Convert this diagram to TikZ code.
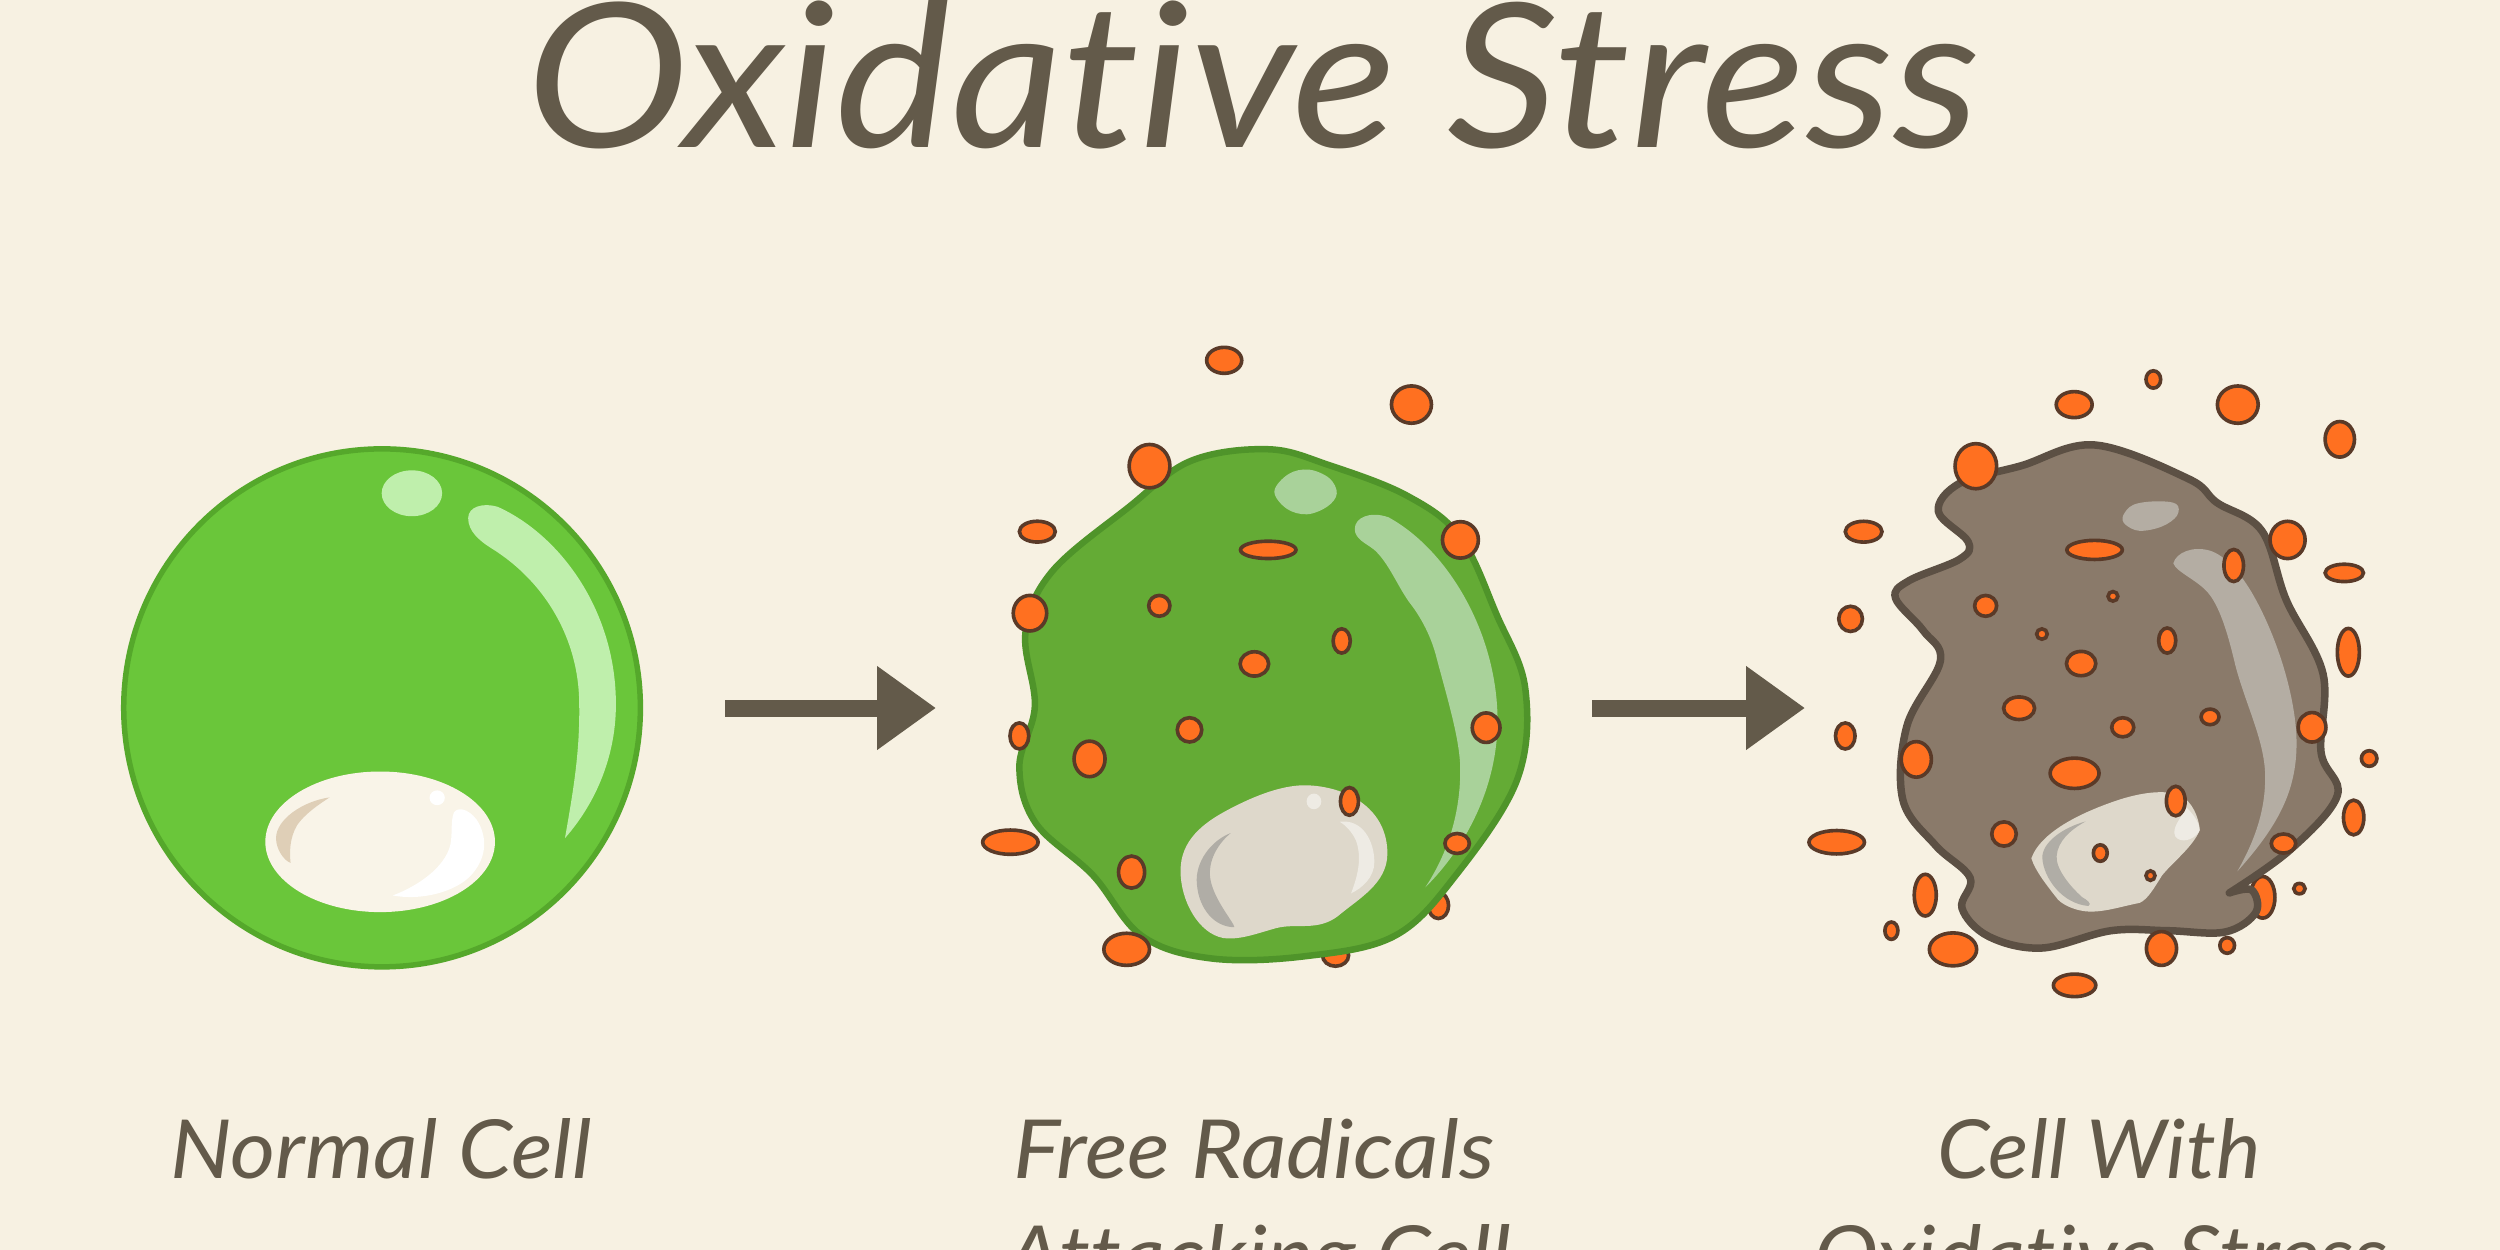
\documentclass[tikz,border=0pt]{standalone}
\usepackage{fontspec}
\setmainfont[Ligatures=NoCommon]{Lato}
\usetikzlibrary{arrows.meta}
\definecolor{paper}{HTML}{F7F1E2}
\definecolor{ink}{HTML}{635A4A}
\definecolor{healthy}{HTML}{6AC63A}
\definecolor{healthyline}{HTML}{55A82B}
\definecolor{healthyglow}{HTML}{BFEFAC}
\definecolor{attacked}{HTML}{64AB35}
\definecolor{attackedline}{HTML}{4F942A}
\definecolor{attackedglow}{HTML}{A9D29A}
\definecolor{damaged}{HTML}{8A7A6A}
\definecolor{damagedline}{HTML}{5C5044}
\definecolor{damagedglow}{HTML}{B4ADA3}
\definecolor{radicalfill}{HTML}{FF7020}
\definecolor{radicalline}{HTML}{5A3A28}
\definecolor{nucleustan}{HTML}{DFCFB7}
\definecolor{nucleusgrey}{HTML}{DED8CB}
\definecolor{nucleusshade}{HTML}{B0ADA6}
\definecolor{nucleusshine}{HTML}{EEEBE4}
\tikzset{
  radical/.style={fill=radicalfill,draw=radicalline,line width=0.145cm},
  membrane/.style={line width=0.26cm,line join=round},
  reaction/.style={draw=ink,line width=0.68cm,-{Triangle[length=2.36cm,width=3.2cm]}},
  caption/.style={inner sep=0pt,anchor=base,text=ink,font=\itshape},
  soft/.style={smooth,tension=0.6},
  softloop/.style={smooth cycle,tension=0.6},
}
% Caption text fitted to a width and an ascender height, both in image pixels
\newcommand{\fitted}[3]{\resizebox{\dimexpr 0.04cm*#1\relax}{\dimexpr 0.04cm*#2\relax}{#3}}
\begin{document}
\begin{tikzpicture}[x=0.04cm,y=-0.04cm]
\useasboundingbox (0,0) rectangle (2500,1250);
\clip (0,0) rectangle (2500,1250);
\fill[paper] (0,0) rectangle (2500,1250);

% Captions and title
\node[caption] (title) at (1253,147) {\fitted{1454}{148}{\fontsize{200}{200}\selectfont Oxidative Stress}};
\node[caption] (labelA) at (381,1178) {\fitted{421}{60}{\fontsize{80}{80}\selectfont Normal Cell}};
\node[caption] (labelB1) at (1254,1178) {\fitted{481}{60}{\fontsize{80}{80}\selectfont Free Radicals}};
\node[caption] (labelB2) at (1259,1284) {\fitted{504}{60}{\fontsize{80}{80}\selectfont Attacking Cell}};
\node[caption] (labelC1) at (2099,1178) {\fitted{323}{60}{\fontsize{80}{80}\selectfont Cell With}};
\node[caption] (labelC2) at (2101,1284) {\fitted{574}{60}{\fontsize{80}{80}\selectfont Oxidative Stress}};

% Reaction arrows
\coordinate (arrowAstart) at (725,708);
\coordinate (arrowAend) at (936,708);
\coordinate (arrowBstart) at (1592,708);
\coordinate (arrowBend) at (1805,708);
\draw[reaction] (arrowAstart) -- (arrowAend);
\draw[reaction] (arrowBstart) -- (arrowBend);

% Healthy cell
\begin{scope}[shift={(100,420)},xscale=.3827,yscale=.37]
\fill[healthy,draw=healthyline,line width=0.22cm] (737,778) ellipse [x radius=675,y radius=700];
\fill[healthyglow] (815,198) ellipse [x radius=79,y radius=62];
\fill[healthyglow] (962,265) .. controls (962,235) and (1000,222) .. (1040,235)
  .. controls (1200,310) and (1345,510) .. (1348,760)
  .. controls (1350,900) and (1300,1030) .. (1215,1130)
  .. controls (1235,1010) and (1255,900) .. (1252,760)
  .. controls (1250,600) and (1170,440) .. (1020,345)
  .. controls (990,325) and (962,300) .. (962,265) -- cycle;
\fill[paper!80!white] (732,1140) ellipse [x radius=300,y radius=190];
\fill[nucleustan] (600,1020) .. controls (530,1030) and (460,1080) .. (460,1130)
  .. controls (460,1160) and (480,1190) .. (498,1197)
  .. controls (495,1170) and (495,1130) .. (515,1095)
  .. controls (535,1065) and (570,1040) .. (600,1020) -- cycle;
\fill[white] (925,1060) .. controls (940,1040) and (975,1060) .. (990,1090)
  .. controls (1015,1140) and (1005,1190) .. (970,1230)
  .. controls (930,1275) and (840,1300) .. (765,1285)
  .. controls (830,1260) and (900,1210) .. (915,1150)
  .. controls (922,1120) and (915,1085) .. (925,1060) -- cycle;
\fill[white] (881,1021) ellipse [x radius=20,y radius=20];
\end{scope}

% Cell under attack
\begin{scope}[shift={(950,320)},xscale=.408,yscale=.4337]
\foreach \x/\y/\a/\b in {1197/1350/25/30,945/1465/32/25}
  \path[radical] (\x,\y) ellipse [x radius=\a,y radius=\b];
\path[fill=attacked,draw=attackedline,membrane] plot[softloop] coordinates {(590,325) (780,298) (930,335) (1120,405) (1250,500) (1340,680) (1410,850) (1390,1060) (1240,1280) (1090,1420) (870,1467) (640,1472) (470,1420) (350,1280) (210,1160) (170,1030) (208,890) (185,720) (250,580) (440,430)};
\fill[attackedglow] plot[softloop] coordinates {(795,395) (830,355) (880,345) (930,365) (948,400) (925,430) (875,448) (825,435)};
\fill[attackedglow] (992,482) .. controls (992,455) and (1030,440) .. (1075,455)
  .. controls (1220,530) and (1340,720) .. (1342,920)
  .. controls (1343,1080) and (1260,1220) .. (1165,1308)
  .. controls (1220,1230) and (1255,1130) .. (1250,1020)
  .. controls (1245,950) and (1215,860) .. (1190,770)
  .. controls (1175,720) and (1150,680) .. (1125,650)
  .. controls (1095,610) and (1075,560) .. (1040,530)
  .. controls (1020,515) and (992,505) .. (992,482) -- cycle;
\fill[nucleusgrey] (565,1270) .. controls (565,1200) and (620,1160) .. (680,1130)
  .. controls (750,1095) and (820,1070) .. (880,1073)
  .. controls (980,1078) and (1072,1130) .. (1072,1230)
  .. controls (1072,1300) and (1000,1335) .. (950,1375)
  .. controls (900,1410) and (850,1390) .. (800,1402)
  .. controls (750,1415) and (710,1430) .. (670,1425)
  .. controls (610,1415) and (565,1340) .. (565,1270) -- cycle;
\fill[nucleusshade] (688,1183) .. controls (640,1200) and (600,1250) .. (605,1300)
  .. controls (610,1360) and (650,1400) .. (697,1400)
  .. controls (697,1390) and (640,1330) .. (637,1280)
  .. controls (635,1240) and (660,1205) .. (688,1183) -- cycle;
\fill[nucleusshine] (955,1157) .. controls (1010,1150) and (1040,1200) .. (1040,1250)
  .. controls (1040,1285) and (1010,1310) .. (983,1322)
  .. controls (1000,1280) and (1010,1240) .. (995,1200)
  .. controls (985,1180) and (970,1165) .. (955,1157) -- cycle;
\fill[nucleusshine] (892,1110) ellipse [x radius=18,y radius=18];
\foreach \x/\y/\a/\b in {672/93/43/30,1131/195/49/43,489/337/50/50,214/488/44/24,780/530/68/20,1251/507/44/42,196/676/41/41,513/659/26/24,960/740/21/28,746/793/35/28,1314/940/34/34,170/959/23/30,587/945/30/28,342/1012/38/41,979/1110/22/32,148/1204/68/28,1243/1207/30/23,445/1273/32/37,433/1451/56/37}
  \path[radical] (\x,\y) ellipse [x radius=\a,y radius=\b];
\end{scope}

% Cell with oxidative stress
\begin{scope}[shift={(1760,340)},xscale=.408,yscale=.4337]
\path[radical] (1232,1285) ellipse [x radius=30,y radius=48];
\path[fill=damaged,draw=damagedline,membrane,line width=0.3cm] plot[soft] coordinates {(1150,1275) (1205,1268) (1215,1320) (1140,1365) (1000,1362) (860,1362) (690,1402) (560,1375) (495,1310) (515,1240) (430,1165) (350,1060) (360,890) (442,740) (400,670) (332,595) (365,555) (490,505) (510,465) (437,395) (490,330) (640,290) (820,242) (1050,320) (1120,375) (1230,440) (1290,600) (1380,770) (1375,950) (1415,1050) (1300,1175) (1150,1275)} -- cycle;
\fill[damagedglow] plot[softloop] coordinates {(890,405) (915,380) (970,372) (1020,378) (1022,405) (985,430) (930,440) (895,425)};
\fill[damagedglow] (1013,515) .. controls (1020,490) and (1060,475) .. (1100,485)
  .. controls (1140,495) and (1180,540) .. (1210,590)
  .. controls (1270,690) and (1315,830) .. (1315,930)
  .. controls (1315,1040) and (1270,1120) .. (1170,1225)
  .. controls (1215,1150) and (1240,1080) .. (1238,1000)
  .. controls (1235,920) and (1190,840) .. (1165,750)
  .. controls (1150,690) and (1130,620) .. (1100,585)
  .. controls (1075,555) and (1020,535) .. (1013,515) -- cycle;
\fill[nucleusgrey] (665,1195) .. controls (690,1130) and (800,1085) .. (880,1060)
  .. controls (930,1045) and (990,1035) .. (1030,1050)
  .. controls (1060,1065) and (1075,1100) .. (1078,1130)
  .. controls (1060,1170) and (1010,1205) .. (985,1235)
  .. controls (965,1265) and (950,1290) .. (930,1298)
  .. controls (890,1305) and (850,1318) .. (810,1318)
  .. controls (780,1318) and (745,1305) .. (730,1290)
  .. controls (705,1260) and (675,1225) .. (665,1195) -- cycle;
\fill[nucleusshade] (798,1110) .. controls (740,1125) and (690,1160) .. (692,1195)
  .. controls (695,1240) and (740,1300) .. (805,1305)
  .. controls (815,1300) and (800,1290) .. (790,1285)
  .. controls (760,1260) and (725,1220) .. (727,1190)
  .. controls (730,1155) and (760,1130) .. (798,1110) -- cycle;
\fill[nucleusshine] (1045,1078) .. controls (1070,1100) and (1082,1125) .. (1075,1135)
  .. controls (1060,1155) and (1030,1160) .. (1018,1145)
  .. controls (1008,1125) and (1030,1105) .. (1045,1078) -- cycle;
\foreach \x/\y/\a/\b in {964/91/18/20,770/149/44/30,1171/149/50/43,1421/229/36/41,529/291/51/52,254/442/45/24,820/484/68/22,1293/461/43/43,1161/520/24/37,1432/537/47/20,553/613/27/24,222/643/29/29,865/591/12/11,691/678/13/12,998/693/21/29,1442/720/27/55,787/746/36/28,635/849/38/26,1103/869/22/18,889/893/27/22,1353/893/34/34,209/913/24/30,1493/965/19/18,383/967/37/41,771/999/60/35,1019/1063/23/34,1455/1101/25/40,188/1158/68/27,598/1139/30/28,1283/1161/30/22,834/1183/17/19,957/1235/11/11,1322/1265/14/12,405/1280/27/48,322/1362/16/20,473/1405/58/38,984/1403/37/39,1145/1396/18/18,771/1488/52/26}
  \path[radical] (\x,\y) ellipse [x radius=\a,y radius=\b];
\end{scope}
\end{tikzpicture}
\end{document}
